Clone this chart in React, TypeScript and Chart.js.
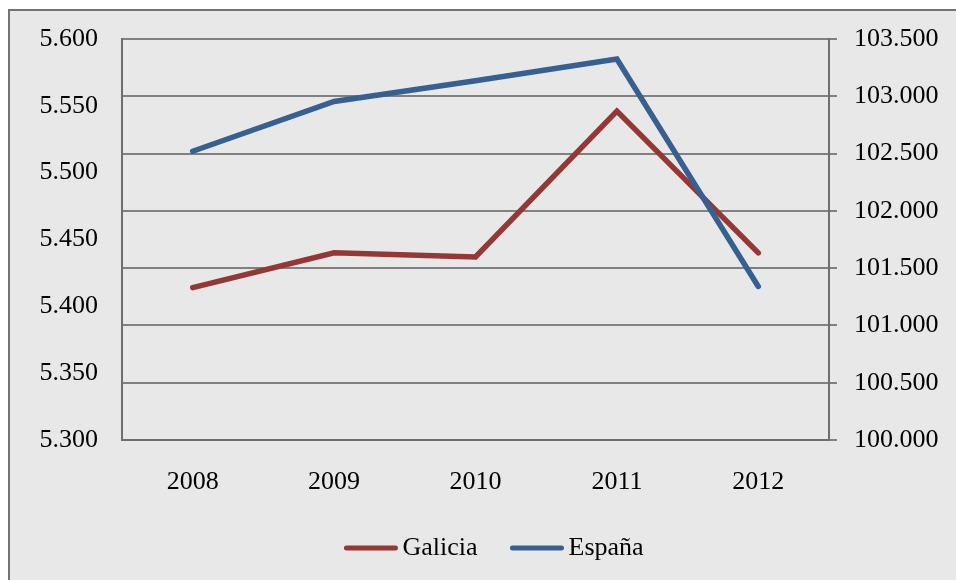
import React, { useEffect, useRef } from "react";
import { Chart, registerables } from "chart.js";

Chart.register(...registerables);

const categories = ["2008", "2009", "2010", "2011", "2012"];
const galicia = [5414, 5440, 5437, 5546, 5440];
const espana = [102520, 102955, 103136, 103325, 101340];
const seriesNames = ["Galicia", "España"];
const seriesColors = ["#953735", "#376092"];

const leftMin = 5300;
const leftMax = 5600;
const leftStep = 50;
const rightMin = 100000;
const rightMax = 103500;
const rightStep = 500;

const FONT = "'Liberation Serif', 'Times New Roman', serif";
const AXIS_GRAY = "#6e6e6e";
const GRID_GRAY = "#808080";

function fmt(v: number): string {
  return Math.round(v)
    .toString()
    .replace(/\B(?=(\d{3})+(?!\d))/g, ".");
}

const framePlugin = {
  id: "frame",
  beforeDraw(chart: any) {
    const { ctx, width, height } = chart;
    ctx.save();
    ctx.fillStyle = "#ffffff";
    ctx.fillRect(0, 0, width, height);
    ctx.fillStyle = "#e8e8e8";
    ctx.fillRect(9, 10, width, height);
    ctx.strokeStyle = "#737373";
    ctx.lineWidth = 2;
    ctx.strokeRect(9, 10, width + 20, height + 20);
    ctx.restore();
  },
};

const legendPlugin = {
  id: "customLegend",
  afterDraw(chart: any) {
    const { ctx } = chart;
    ctx.save();
    ctx.font = `26px ${FONT}`;
    const lineLen = 53;
    const gapText = 5;
    const gapItems = 33;
    const items = chart.data.datasets.map((ds: any) => ({
      label: ds.label as string,
      color: ds.borderColor as string,
      w: ctx.measureText(ds.label).width,
    }));
    let total = 0;
    items.forEach((it: any, i: number) => {
      total += lineLen + gapText + it.w + (i > 0 ? gapItems : 0);
    });
    const centerX = 494;
    const y = 548;
    let x = centerX - total / 2;
    items.forEach((it: any) => {
      ctx.strokeStyle = it.color;
      ctx.lineWidth = 5;
      ctx.lineCap = "round";
      ctx.beginPath();
      ctx.moveTo(x + 2, y);
      ctx.lineTo(x + lineLen - 2, y);
      ctx.stroke();
      ctx.fillStyle = "#000000";
      ctx.textAlign = "left";
      ctx.textBaseline = "middle";
      ctx.fillText(it.label, x + lineLen + gapText, y);
      x += lineLen + gapText + it.w + gapItems;
    });
    ctx.restore();
  },
};

export default function App() {
  const canvasRef = useRef<HTMLCanvasElement | null>(null);

  useEffect(() => {
    if (!canvasRef.current) return;
    Chart.defaults.font.family = FONT;
    const chart = new Chart(canvasRef.current, {
      type: "line",
      data: {
        labels: categories,
        datasets: [
          {
            label: seriesNames[0],
            data: galicia,
            yAxisID: "yLeft",
            borderColor: seriesColors[0],
            backgroundColor: seriesColors[0],
            borderWidth: 5.5,
            borderCapStyle: "round",
            pointRadius: 0,
            tension: 0,
            order: 1,
          },
          {
            label: seriesNames[1],
            data: espana,
            yAxisID: "yRight",
            borderColor: seriesColors[1],
            backgroundColor: seriesColors[1],
            borderWidth: 5.5,
            borderCapStyle: "round",
            pointRadius: 0,
            tension: 0,
            order: 0,
          },
        ],
      },
      options: {
        animation: false,
        responsive: true,
        maintainAspectRatio: false,
        layout: { padding: { top: 39, left: 0, right: 0, bottom: 0 } },
        plugins: {
          legend: { display: false },
          tooltip: { enabled: false },
        },
        scales: {
          x: {
            type: "category",
            offset: true,
            grid: { display: false },
            border: { display: true, color: AXIS_GRAY, width: 2 },
            ticks: {
              color: "#000000",
              font: { size: 26, family: FONT },
              padding: 19,
              maxRotation: 0,
            },
            afterFit(scale: any) {
              scale.height = 140;
            },
          },
          yLeft: {
            type: "linear",
            position: "left",
            min: leftMin,
            max: leftMax,
            grid: { display: false },
            border: { display: true, color: AXIS_GRAY, width: 2 },
            ticks: {
              stepSize: leftStep,
              color: "#000000",
              font: { size: 26, family: FONT },
              padding: 16,
              callback: (v: any) => fmt(Number(v)),
            },
            afterFit(scale: any) {
              scale.width = 122;
            },
          },
          yRight: {
            type: "linear",
            position: "right",
            min: rightMin,
            max: rightMax,
            grid: {
              display: true,
              color: GRID_GRAY,
              lineWidth: 2,
              drawTicks: true,
              tickLength: 8,
            },
            border: { display: true, color: AXIS_GRAY, width: 2 },
            ticks: {
              stepSize: rightStep,
              color: "#000000",
              font: { size: 26, family: FONT },
              padding: 17,
              callback: (v: any) => fmt(Number(v)),
            },
            afterFit(scale: any) {
              scale.width = 127;
            },
          },
        },
      },
      plugins: [framePlugin, legendPlugin],
    });
    return () => chart.destroy();
  }, []);

  return (
    <div
      style={{
        position: "fixed",
        left: 0,
        top: 0,
        width: "956px",
        height: "580px",
      }}
    >
      <canvas ref={canvasRef} />
    </div>
  );
}
